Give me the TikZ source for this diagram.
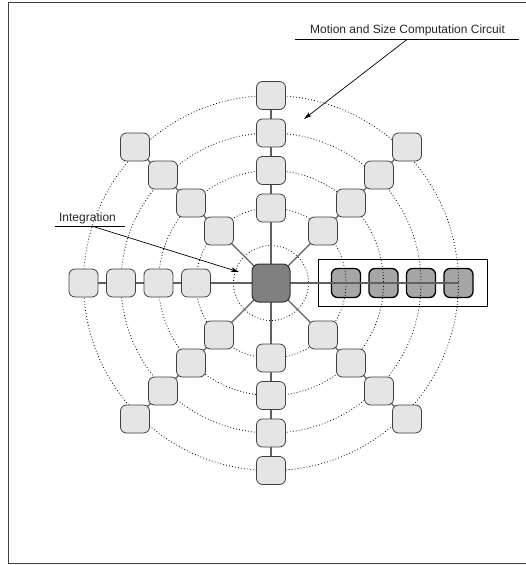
\documentclass[tikz,border=0pt]{standalone}
\usepackage{fontspec}
\setmainfont{Liberation Sans}
\usetikzlibrary{arrows.meta}
\definecolor{cellfill}{HTML}{E5E5E5}
\definecolor{cellborder}{HTML}{404040}
\definecolor{grayfill}{HTML}{A6A6A6}
\definecolor{hubfill}{HTML}{808080}
\definecolor{axisline}{HTML}{606060}
\begin{document}
\begin{tikzpicture}[x=1pt,y=-1pt,
  cell/.style={draw=cellborder, fill=cellfill, line width=0.8pt, rounded corners=6pt,
    minimum width=29pt, minimum height=28pt, inner sep=0pt},
  graycell/.style={draw=black, fill=grayfill, line width=1.3pt, rounded corners=6pt,
    minimum width=29pt, minimum height=29pt, inner sep=0pt},
  hub/.style={draw=black!80, fill=hubfill, line width=1pt, rounded corners=7pt,
    minimum width=38pt, minimum height=38pt, inner sep=0pt},
  ring/.style={line width=0.8pt, dash pattern=on 0.8pt off 2.2pt},
  axis/.style={draw=axisline, line width=1.2pt},
  pointer/.style={line width=0.7pt, -{Stealth[length=8pt,width=4.5pt,inset=2pt]}},
  caption/.style={font=\fontsize{12}{14}\selectfont, anchor=base, inner sep=0pt, text=black!85},
  frame/.style={draw=black!75, line width=1pt}]
\useasboundingbox (0,0) rectangle (526,565);
\coordinate (f1) at (526,2);
\coordinate (f2) at (8.3,2);
\coordinate (f3) at (8.3,563.7);
\coordinate (f4) at (526,563.7);
\draw[frame] (f1) -- (f2) -- (f3) -- (f4);
\coordinate (C) at (271,283);
% gray cells of the computation circuit
\foreach \k in {1,...,4} {
  \pgfmathsetmacro\a{37.5*(\k+1)}
  \node[graycell] (r\k) at (271+\a,283) {};
}
\node[draw=black, line width=0.8pt, minimum width=169pt, minimum height=47pt, inner sep=0pt] (box) at (402.5,282.5) {};
% dotted rings
\foreach \r in {37.5,75,112.5,150,187.5}
  \draw[ring] (C) circle[radius=\r];
% arms
\foreach \k in {1,...,4} {
  \pgfmathsetmacro\a{37.5*(\k+1)}
  \pgfmathsetmacro\dd{24+28*\k}
  \coordinate (pu\k) at (271,283-\a);
  \coordinate (pd\k) at (271,283+\a);
  \coordinate (pl\k) at (271-\a,283);
  \coordinate (pul\k) at (271-\dd,283-\dd);
  \coordinate (pur\k) at (271+\dd,283-\dd);
  \coordinate (pdl\k) at (271-\dd,283+\dd);
  \coordinate (pdr\k) at (271+\dd,283+\dd);
}
\draw[axis] (pl4) -- (r4.center);
\draw[axis] (pu4) -- (pd4);
\draw[axis] (C) -- (pul4);
\draw[axis] (C) -- (pur4);
\draw[axis] (C) -- (pdl4);
\draw[axis] (C) -- (pdr4);
\foreach \k in {1,...,4} {
  \node[cell] (u\k) at (pu\k) {};
  \node[cell] (d\k) at (pd\k) {};
  \node[cell] (l\k) at (pl\k) {};
  \node[cell] (ul\k) at (pul\k) {};
  \node[cell] (ur\k) at (pur\k) {};
  \node[cell] (dl\k) at (pdl\k) {};
  \node[cell] (dr\k) at (pdr\k) {};
}
\node[hub] (hub) at (C) {};
% labels
\node[caption] (motion) at (407.5,33) {Motion and Size Computation Circuit};
\coordinate (mA) at (295,39.5);
\coordinate (mB) at (519,39.5);
\draw[line width=0.8pt] (mA) -- (mB);
\coordinate (m1) at (407,39.5);
\coordinate (m2) at (304,119);
\draw[pointer] (m1) -- (m2);
\node[caption] (integ) at (87.5,221) {Integration};
\coordinate (iA) at (55,226);
\coordinate (iB) at (125,226);
\draw[line width=0.8pt] (iA) -- (iB);
\coordinate (i1) at (91.7,226);
\coordinate (i2) at (239,272);
\draw[pointer] (i1) -- (i2);
\end{tikzpicture}
\end{document}
